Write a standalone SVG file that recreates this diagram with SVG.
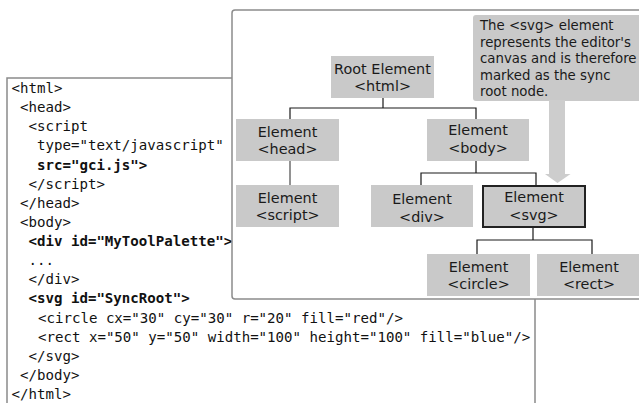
<svg xmlns="http://www.w3.org/2000/svg" width="639" height="403" viewBox="0 0 639 403">
<style>
.code{font-family:"DejaVu Sans Mono","Liberation Mono",monospace;font-size:14.1px;fill:#111;white-space:pre}
.b{font-weight:bold}
.nt{font-family:"DejaVu Sans","Verdana",sans-serif;font-size:14.4px;fill:#1a1a1a;text-anchor:middle}
.ct{font-family:"DejaVu Sans","Verdana",sans-serif;font-size:13.3px;fill:#1a1a1a}
.node{fill:#c9c9c9}
.con{fill:none;stroke:#1a1a1a;stroke-width:1.2}
</style>
<rect width="639" height="403" fill="#fff"/>
<g id="code-box">
<rect x="7" y="78" width="528" height="340" fill="#fff" stroke="#8a8a8a" stroke-width="1.5"/>
<text class="code" x="11.5" y="93">&lt;html&gt;</text>
<text class="code" x="20" y="112.1">&lt;head&gt;</text>
<text class="code" x="28.5" y="131.3">&lt;script</text>
<text class="code" x="37" y="150.4">type="text/javascript"</text>
<text class="code b" x="37" y="169.5">src="gci.js"&gt;</text>
<text class="code" x="28.5" y="188.6">&lt;/script&gt;</text>
<text class="code" x="20" y="207.8">&lt;/head&gt;</text>
<text class="code" x="20" y="226.9">&lt;body&gt;</text>
<text class="code b" x="28.5" y="246">&lt;div id="MyToolPalette"&gt;</text>
<text class="code" x="28.5" y="265.1">...</text>
<text class="code" x="28.5" y="284.3">&lt;/div&gt;</text>
<text class="code b" x="28.5" y="303.4">&lt;svg id="SyncRoot"&gt;</text>
<text class="code" x="38" y="322.5">&lt;circle cx="30" cy="30" r="20" fill="red"/&gt;</text>
<text class="code" x="38" y="341.6">&lt;rect x="50" y="50" width="100" height="100" fill="blue"/&gt;</text>
<text class="code" x="28.5" y="360.8">&lt;/svg&gt;</text>
<text class="code" x="20" y="379.9">&lt;/body&gt;</text>
<text class="code" x="11.5" y="399">&lt;/html&gt;</text>
</g>
<g id="panel">
<rect x="232" y="10" width="420" height="289" rx="3" fill="#fff" stroke="#8c8c8c" stroke-width="1.5"/>
</g>
<g id="connectors">
<path class="con" d="M383 98V108M290 119V108H476V119"/>
<path fill="none" stroke="#777" stroke-width="1.6" d="M290 161V185"/>
<path class="con" d="M476 161V173M421 185V173H536V185"/>
<path class="con" d="M533 228V240M477 254V240H592V254"/>
</g>
<g id="callout">
<rect x="473" y="15" width="175" height="86" rx="3" fill="#c9c9c9"/>
<path d="M549 100H565V174H570.5L557.5 183L545 174H549Z" fill="#cdcdcd"/>
<text class="ct" x="480" y="30">The &lt;svg&gt; element</text>
<text class="ct" x="480" y="46.5">represents the editor's</text>
<text class="ct" x="480" y="63">canvas and is therefore</text>
<text class="ct" x="480" y="79.5">marked as the sync</text>
<text class="ct" x="480" y="96">root node.</text>
</g>
<g id="node-root">
<rect class="node" x="331" y="56" width="103" height="42"/>
<text class="nt" x="382.5" y="73.5">Root Element</text>
<text class="nt" x="382.5" y="91">&lt;html&gt;</text>
</g>
<g id="node-head">
<rect class="node" x="236" y="119" width="103" height="42"/>
<text class="nt" x="287.5" y="136.5">Element</text>
<text class="nt" x="287.5" y="154">&lt;head&gt;</text>
</g>
<g id="node-body">
<rect class="node" x="427" y="119" width="102" height="42"/>
<text class="nt" x="478" y="134.5">Element</text>
<text class="nt" x="478" y="153">&lt;body&gt;</text>
</g>
<g id="node-script">
<rect class="node" x="236" y="185" width="103" height="42"/>
<text class="nt" x="287.5" y="202.5">Element</text>
<text class="nt" x="287.5" y="220">&lt;script&gt;</text>
</g>
<g id="node-div">
<rect class="node" x="371" y="185" width="102" height="42"/>
<text class="nt" x="422" y="204">Element</text>
<text class="nt" x="422" y="221.5">&lt;div&gt;</text>
</g>
<g id="node-svg">
<rect class="node" x="483" y="186" width="102" height="41" stroke="#222" stroke-width="2"/>
<text class="nt" x="534" y="201.5">Element</text>
<text class="nt" x="534" y="220">&lt;svg&gt;</text>
</g>
<g id="node-circle">
<rect class="node" x="427" y="254" width="103" height="42"/>
<text class="nt" x="478.5" y="271.5">Element</text>
<text class="nt" x="478.5" y="289">&lt;circle&gt;</text>
</g>
<g id="node-rect">
<rect class="node" x="537" y="254" width="104" height="42"/>
<text class="nt" x="589" y="271.5">Element</text>
<text class="nt" x="589" y="289">&lt;rect&gt;</text>
</g>
</svg>
